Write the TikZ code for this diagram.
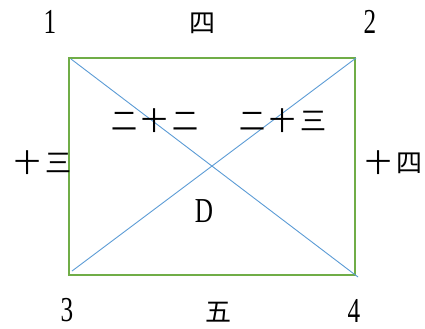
\documentclass[tikz,border=0pt]{standalone}
\usepackage{fontspec}
\newfontfamily\cjk{Noto Sans CJK TC}[Scale=1]
\newfontfamily\dig{Liberation Serif}[FakeStretch=0.72]
\definecolor{rgreen}{RGB}{112,173,71}
\definecolor{rblue}{RGB}{91,155,213}
\begin{document}
\begin{tikzpicture}[x=1bp,y=-1bp,
  box/.style={draw=rgreen,line width=2.4bp},
  diag/.style={draw=rblue,line width=0.9bp},
  num/.style={inner sep=0pt,font=\dig\fontsize{35bp}{35bp}\selectfont},
  zh/.style={inner sep=0pt,font=\cjk\fontsize{26bp}{26bp}\selectfont}]
\useasboundingbox (0,0) rectangle (425,329);
\coordinate (tl) at (69,58);
\coordinate (tr) at (355,58);
\coordinate (bl) at (69,275);
\coordinate (br) at (355,275);
\coordinate (d1s) at (71,59);
\coordinate (d1e) at (358,277);
\coordinate (d2s) at (356,58);
\coordinate (d2e) at (72,271);
\draw[box] (tl) rectangle (br);
\draw[diag] (d1s) -- (d1e);
\draw[diag] (d2s) -- (d2e);
\node[num] (n1) at (50,22) {1};
\node[zh] (t4) at (202,23) {四};
\node[num] (n2) at (370,22) {2};
\node[zh] (t22) at (155,121) {二\hspace{5bp}十\hspace{5bp}二};
\node[zh] (t23) at (283,121) {二\hspace{5bp}十\hspace{5bp}三};
\node[zh] (t13) at (43,163) {十\hspace{6bp}三};
\node[zh] (t14) at (394,163) {十\hspace{6bp}四};
\node[num] (dd) at (204,211) {D};
\node[num] (n3) at (67,310.5) {3};
\node[zh] (t5) at (218,312) {五};
\node[num] (n4) at (354,310.5) {4};
\end{tikzpicture}
\end{document}
